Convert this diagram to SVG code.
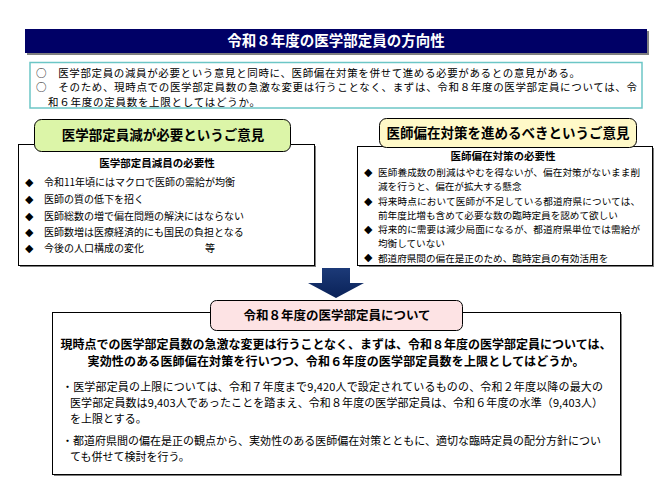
<svg xmlns="http://www.w3.org/2000/svg" width="670" height="501" viewBox="0 0 670 501">
<style>
text{font-family:"Noto Sans CJK JP","Noto Sans",sans-serif;fill:#000;}
.b{font-weight:bold;}
.box{fill:#fff;stroke:#000;stroke-width:1;}
.shadow{fill:#7f7f7f;}
.t10{font-size:10px;}
.t96{font-size:9.6px;}
.t11{font-size:11px;}
.t105{font-size:10.5px;}
.c{text-anchor:middle;}
.d{font-size:8.5px;}
</style>
<rect width="670" height="501" fill="#fff"/>
<g id="title">
<rect x="27" y="31" width="622" height="24" class="shadow"/>
<rect x="25" y="29" width="622" height="24" fill="#000066"/>
<text x="336" y="46" class="b c" style="font-size:14.5px;fill:#fff">令和８年度の医学部定員の方向性</text>
</g>
<g id="intro">
<rect x="30" y="62.5" width="612" height="45.5" fill="#fff" stroke="#6cc6c6" stroke-width="1.5"/>
<text x="36" y="76.5" class="t105" textLength="544">○　医学部定員の減員が必要という意見と同時に、医師偏在対策を併せて進める必要があるとの意見がある。</text>
<text x="36" y="91" class="t105" textLength="601">○　そのため、現時点での医学部定員数の急激な変更は行うことなく、まずは、令和８年度の医学部定員については、令</text>
<text x="48" y="105.5" class="t105" textLength="212">和６年度の定員数を上限としてはどうか。</text>
</g>
<g id="left-opinion">
<rect x="20" y="146" width="296" height="121" class="shadow"/>
<rect x="18.5" y="144.5" width="296" height="121" class="box"/>
<rect x="34.5" y="119.5" width="256" height="32" rx="7" fill="#dcf5a8" stroke="#000" stroke-width="1"/>
<text x="163" y="140" class="b c" style="font-size:13.5px">医学部定員減が必要というご意見</text>
<text x="157" y="167" class="b c" style="font-size:10.5px">医学部定員減員の必要性</text>
<g class="t10">
<text x="25" y="185.5" class="d">◆</text><text x="44" y="186">令和11年頃にはマクロで医師の需給が均衡</text>
<text x="25" y="202.5" class="d">◆</text><text x="44" y="203">医師の質の低下を招く</text>
<text x="25" y="219.5" class="d">◆</text><text x="44" y="220">医師総数の増で偏在問題の解決にはならない</text>
<text x="25" y="235.5" class="d">◆</text><text x="44" y="236">医師数増は医療経済的にも国民の負担となる</text>
<text x="25" y="251.5" class="d">◆</text><text x="44" y="252">今後の人口構成の変化</text><text x="205" y="252">等</text>
</g>
</g>
<g id="right-opinion">
<rect x="359" y="148" width="295" height="119" class="shadow"/>
<rect x="357.5" y="146.5" width="295" height="119" class="box"/>
<rect x="379.5" y="118.5" width="257" height="29" rx="7" fill="#fff9c8" stroke="#000" stroke-width="1"/>
<text x="508" y="138" class="b c" style="font-size:13.5px">医師偏在対策を進めるべきというご意見</text>
<text x="503" y="160" class="b c" style="font-size:10.5px">医師偏在対策の必要性</text>
<g class="t96">
<text x="364" y="175.5" class="d">◆</text><text x="378" y="176" textLength="262">医師養成数の削減はやむを得ないが、偏在対策がないまま削</text>
<text x="378" y="189.5">減を行うと、偏在が拡大する懸念</text>
<text x="364" y="204.5" class="d">◆</text><text x="378" y="205" textLength="262">将来時点において医師が不足している都道府県については、</text>
<text x="378" y="218.5">前年度比増も含めて必要な数の臨時定員を認めて欲しい</text>
<text x="364" y="232.5" class="d">◆</text><text x="378" y="233" textLength="262">将来的に需要は減少局面になるが、都道府県単位では需給が</text>
<text x="378" y="246.5">均衡していない</text>
<text x="364" y="261" class="d">◆</text><text x="378" y="261.5">都道府県間の偏在是正のため、臨時定員の有効活用を</text>
</g>
</g>
<g id="connectors">
<defs>
<linearGradient id="ag" x1="0" y1="0" x2="0" y2="1">
<stop offset="0" stop-color="#1c3a78"/>
<stop offset="1" stop-color="#0a2258"/>
</linearGradient>
</defs>
<path d="M322 268 H350 V283 H364 L336 298 L308 283 H322 Z" fill="url(#ag)"/>
</g>
<g id="conclusion">
<rect x="54" y="314" width="568" height="162" class="shadow"/>
<rect x="52.5" y="312.5" width="568" height="162" class="box"/>
<rect x="210.5" y="300.5" width="252" height="30" rx="6" fill="#fde3e4" stroke="#000" stroke-width="1"/>
<text x="337" y="320" class="b c" style="font-size:12.5px">令和８年度の医学部定員について</text>
<text x="336" y="349" class="b c" style="font-size:12px" textLength="551">現時点での医学部定員数の急激な変更は行うことなく、まずは、令和８年度の医学部定員については、</text>
<text x="336" y="366" class="b c" style="font-size:12px" textLength="497">実効性のある医師偏在対策を行いつつ、令和６年度の医学部定員数を上限としてはどうか。</text>
<g class="t11">
<text x="62" y="391" textLength="541">・医学部定員の上限については、令和７年度まで9,420人で設定されているものの、令和２年度以降の最大の</text>
<text x="70" y="407" textLength="533">医学部定員数は9,403人であったことを踏まえ、令和８年度の医学部定員は、令和６年度の水準（9,403人）</text>
<text x="70" y="423">を上限とする。</text>
<text x="62" y="445" textLength="539">・都道府県間の偏在是正の観点から、実効性のある医師偏在対策とともに、適切な臨時定員の配分方針につい</text>
<text x="70" y="461">ても併せて検討を行う。</text>
</g>
</g>
</svg>
